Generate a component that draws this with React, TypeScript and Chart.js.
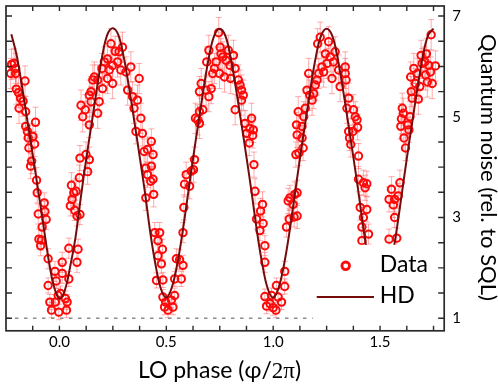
import React, { useEffect, useRef } from "react";
import { Chart, registerables } from "chart.js";

Chart.register(...registerables);

// ---------- axis ranges & ticks ----------
const X_MIN = -0.25;
const X_MAX = 1.8;
const Y_MIN = 0.75;
const Y_MAX = 7.2;
const X_TICKS = [0, 0.5, 1.0, 1.5];
const Y_TICKS = [1, 3, 5, 7];
const X_MINOR = [-0.125, 0, 0.125, 0.25, 0.375, 0.5, 0.625, 0.75, 0.875, 1.0, 1.125, 1.25, 1.375, 1.5, 1.625, 1.75];
const Y_MINOR = [1, 1.5, 2, 2.5, 3, 3.5, 4, 4.5, 5, 5.5, 6, 6.5, 7];

// ---------- labels ----------
const X_TITLE = ["LO phase (", "φ/", "2π", ")"];
const Y_TITLE = "Quantum noise (rel. to SQL)";
const LEGEND_DATA = "Data";
const LEGEND_HD = "HD";

// ---------- SQL reference (dashed) ----------
const SQL_X = [-0.25, 1.8];
const SQL_Y = [1, 1];

// ---------- HD curve ----------
const HD_X = [
  -0.225, -0.2, -0.175, -0.15, -0.125, -0.1, -0.075, -0.05, -0.025, 0,
  0.025, 0.05, 0.075, 0.1, 0.125, 0.15, 0.175, 0.2, 0.225, 0.25,
  0.275, 0.3, 0.325, 0.35, 0.375, 0.4, 0.425, 0.45, 0.475, 0.5,
  0.525, 0.55, 0.575, 0.6, 0.625, 0.65, 0.675, 0.7, 0.725, 0.75,
  0.775, 0.8, 0.825, 0.85, 0.875, 0.9, 0.925, 0.95, 0.975, 1.0,
  1.025, 1.05, 1.075, 1.1, 1.125, 1.15, 1.175, 1.2, 1.225, 1.25,
  1.275, 1.3, 1.325, 1.35, 1.375, 1.4, 1.425, 1.45, 1.475, 1.5,
  1.525, 1.55, 1.575, 1.6, 1.625, 1.65, 1.675, 1.7, 1.725, 1.75,
];
const HD_Y = [
  6.64, 6.22, 5.6, 4.92, 4.25, 3.55, 2.85, 2.15, 1.62, 1.39,
  1.55, 2.02, 2.6, 3.4, 4.15, 4.85, 5.55, 6.2, 6.64, 6.76,
  6.63, 6.2, 5.6, 4.92, 4.22, 3.5, 2.7, 2.05, 1.58, 1.41,
  1.6, 2.05, 2.68, 3.42, 4.17, 4.88, 5.57, 6.2, 6.62, 6.75,
  6.62, 6.2, 5.58, 4.9, 4.2, 3.47, 2.7, 2.05, 1.58, 1.41,
  1.6, 2.05, 2.68, 3.42, 4.17, 4.88, 5.57, 6.2, 6.62, 6.75,
  6.62, 6.2, 5.58, 4.9, 4.2, 3.47, 2.7, 2.05, 1.58, 1.41,
  1.6, 2.05, 2.68, 3.42, 4.17, 4.88, 5.57, 6.2, 6.62, 6.75,
];

// ---------- measured data: [phase, noise, error] ----------
const DATA: [number, number, number][] = [
  [-0.224, 6.04, 0.3], [-0.212, 6.06, 0.3], [-0.205, 5.96, 0.3], [-0.228, 5.86, 0.3], [-0.205, 5.86, 0.3],
  [-0.161, 5.71, 0.3], [-0.202, 5.55, 0.3], [-0.192, 5.48, 0.3], [-0.182, 5.37, 0.3], [-0.17, 5.31, 0.3],
  [-0.189, 5.17, 0.3], [-0.158, 5.1, 0.3], [-0.112, 4.89, 0.3], [-0.158, 4.81, 0.25], [-0.15, 4.71, 0.25],
  [-0.124, 4.61, 0.25], [-0.146, 4.58, 0.25], [-0.143, 4.38, 0.25], [-0.116, 4.46, 0.25], [-0.13, 4.12, 0.25],
  [-0.135, 4.02, 0.25], [-0.107, 3.74, 0.25], [-0.104, 3.49, 0.2], [-0.071, 3.29, 0.2], [-0.099, 3.07, 0.2],
  [-0.068, 3.12, 0.2], [-0.062, 2.96, 0.2], [-0.081, 2.81, 0.2], [-0.096, 2.57, 0.2], [-0.084, 2.55, 0.2],
  [-0.088, 2.44, 0.2], [-0.053, 2.18, 0.2], [-0.021, 1.93, 0.2], [0.013, 2.11, 0.2], [0.013, 1.89, 0.2],
  [-0.015, 1.74, 0.15], [-0.053, 1.65, 0.15], [0.005, 1.49, 0.15], [-0.006, 1.45, 0.15], [-0.045, 1.32, 0.15],
  [-0.019, 1.32, 0.15], [0.028, 1.39, 0.15], [0.036, 1.32, 0.15], [-0.037, 1.16, 0.15], [-0.003, 1.12, 0.15],
  [0.033, 1.16, 0.15], [0.044, 2.39, 0.2], [0.044, 1.78, 0.15], [0.087, 2.37, 0.2], [0.082, 2.11, 0.2],
  [0.056, 3.64, 0.25], [0.067, 3.49, 0.25], [0.059, 3.36, 0.2], [0.051, 3.23, 0.2], [0.072, 3.14, 0.2],
  [0.082, 3.03, 0.2], [0.096, 3.06, 0.2], [0.078, 3.52, 0.25], [0.093, 3.79, 0.25], [0.096, 4.18, 0.25],
  [0.124, 4.25, 0.25], [0.14, 4.15, 0.25], [0.132, 3.91, 0.25], [0.101, 5.23, 0.3], [0.121, 5.14, 0.3],
  [0.109, 5.0, 0.3], [0.179, 5.07, 0.3], [0.14, 4.84, 0.25], [0.148, 5.5, 0.3], [0.14, 5.43, 0.3],
  [0.186, 5.3, 0.3], [0.148, 5.3, 0.3], [0.163, 5.79, 0.3], [0.156, 5.73, 0.3], [0.179, 5.73, 0.3],
  [0.225, 5.76, 0.3], [0.249, 5.66, 0.3], [0.202, 5.56, 0.3], [0.241, 6.45, 0.3], [0.225, 6.15, 0.3],
  [0.261, 6.3, 0.3], [0.279, 6.29, 0.3], [0.295, 6.38, 0.3], [0.272, 6.09, 0.3], [0.21, 6.09, 0.3],
  [0.199, 5.96, 0.3], [0.249, 6.02, 0.3], [0.233, 5.93, 0.3], [0.287, 5.93, 0.3], [0.311, 5.89, 0.3],
  [0.334, 5.99, 0.3], [0.373, 5.76, 0.3], [0.319, 5.53, 0.3], [0.342, 5.4, 0.3], [0.365, 5.33, 0.3],
  [0.349, 5.17, 0.3], [0.381, 4.97, 0.3], [0.358, 4.71, 0.25], [0.388, 4.67, 0.25], [0.396, 4.31, 0.25],
  [0.412, 4.35, 0.25], [0.404, 3.98, 0.25], [0.412, 3.85, 0.25], [0.404, 3.39, 0.25], [0.427, 3.72, 0.25],
  [0.43, 4.51, 0.25], [0.438, 4.25, 0.25], [0.43, 4.02, 0.25], [0.438, 3.76, 0.25], [0.441, 3.46, 0.25],
  [0.446, 2.7, 0.2], [0.469, 2.7, 0.2], [0.461, 2.54, 0.2], [0.482, 2.37, 0.2], [0.461, 2.24, 0.2],
  [0.477, 2.08, 0.2], [0.454, 1.75, 0.15], [0.484, 1.76, 0.15], [0.484, 1.42, 0.15], [0.497, 1.32, 0.15],
  [0.492, 1.22, 0.15], [0.508, 1.16, 0.15], [0.531, 1.22, 0.15], [0.539, 1.45, 0.15], [0.524, 1.36, 0.15],
  [0.547, 2.18, 0.2], [0.562, 2.16, 0.2], [0.578, 2.05, 0.2], [0.539, 1.78, 0.15], [0.57, 1.78, 0.15],
  [0.578, 2.7, 0.2], [0.582, 3.2, 0.25], [0.585, 3.66, 0.25], [0.593, 3.85, 0.25], [0.617, 3.92, 0.25],
  [0.609, 3.62, 0.25], [0.627, 3.95, 0.25], [0.632, 4.15, 0.25], [0.636, 4.97, 0.3], [0.655, 5.1, 0.3],
  [0.647, 4.94, 0.3], [0.671, 5.14, 0.3], [0.655, 4.87, 0.3], [0.655, 5.5, 0.3], [0.663, 5.66, 0.3],
  [0.686, 5.53, 0.3], [0.699, 5.4, 0.3], [0.71, 5.56, 0.3], [0.689, 6.09, 0.3], [0.699, 6.32, 0.3],
  [0.733, 6.09, 0.3], [0.725, 5.96, 0.3], [0.749, 5.86, 0.3], [0.717, 5.86, 0.3], [0.752, 6.38, 0.3],
  [0.745, 6.67, 0.3], [0.764, 6.19, 0.3], [0.772, 5.79, 0.3], [0.756, 6.25, 0.3], [0.79, 6.32, 0.3],
  [0.814, 6.22, 0.3], [0.78, 6.12, 0.3], [0.798, 6.02, 0.3], [0.822, 5.96, 0.3], [0.801, 5.76, 0.3],
  [0.837, 5.73, 0.3], [0.845, 5.63, 0.3], [0.852, 5.53, 0.3], [0.86, 5.43, 0.3], [0.852, 5.33, 0.3],
  [0.822, 5.14, 0.3], [0.899, 4.97, 0.3], [0.868, 4.87, 0.25], [0.891, 4.77, 0.25], [0.907, 4.74, 0.25],
  [0.876, 4.67, 0.25], [0.904, 4.63, 0.25], [0.888, 4.48, 0.25], [0.91, 4.05, 0.25], [0.915, 3.52, 0.25],
  [0.95, 3.26, 0.25], [0.941, 3.13, 0.25], [0.922, 2.97, 0.2], [0.953, 2.88, 0.2], [0.938, 2.74, 0.2],
  [0.961, 2.44, 0.2], [0.961, 2.11, 0.2], [1.054, 1.93, 0.2], [1.015, 1.65, 0.15], [1.054, 1.63, 0.15],
  [0.961, 1.43, 0.15], [0.992, 1.45, 0.15], [1.023, 1.42, 0.15], [0.969, 1.24, 0.15], [1.0, 1.21, 0.15],
  [1.039, 1.32, 0.15], [1.013, 1.16, 0.15], [0.985, 1.29, 0.15], [1.062, 2.81, 0.2], [1.075, 2.97, 0.2],
  [1.07, 3.33, 0.25], [1.078, 3.39, 0.25], [1.093, 3.26, 0.25], [1.101, 3.46, 0.25], [1.098, 3.01, 0.2],
  [1.106, 4.25, 0.25], [1.112, 4.64, 0.25], [1.109, 4.84, 0.25], [1.117, 5.1, 0.3], [1.12, 4.28, 0.25],
  [1.112, 3.49, 0.25], [1.112, 3.03, 0.25], [1.135, 4.81, 0.25], [1.135, 4.58, 0.25], [1.14, 4.38, 0.25],
  [1.143, 5.0, 0.3], [1.15, 5.17, 0.3], [1.158, 5.53, 0.3], [1.171, 5.43, 0.3], [1.182, 5.33, 0.3],
  [1.19, 5.46, 0.3], [1.197, 5.63, 0.3], [1.166, 5.86, 0.3], [1.205, 5.73, 0.3], [1.213, 5.86, 0.3],
  [1.228, 5.99, 0.3], [1.236, 5.89, 0.3], [1.252, 6.06, 0.3], [1.244, 6.25, 0.3], [1.267, 6.19, 0.3],
  [1.259, 6.49, 0.3], [1.208, 6.45, 0.3], [1.22, 6.58, 0.3], [1.275, 5.76, 0.3], [1.282, 6.09, 0.3],
  [1.29, 6.29, 0.3], [1.306, 5.93, 0.3], [1.313, 5.6, 0.3], [1.337, 5.99, 0.3], [1.341, 5.73, 0.3],
  [1.337, 5.86, 0.3], [1.353, 5.37, 0.3], [1.345, 5.17, 0.3], [1.376, 5.14, 0.3], [1.384, 5.0, 0.3],
  [1.392, 4.94, 0.25], [1.395, 4.79, 0.25], [1.373, 4.71, 0.25], [1.353, 4.71, 0.25], [1.357, 4.58, 0.25],
  [1.363, 4.45, 0.25], [1.399, 4.22, 0.25], [1.399, 3.76, 0.25], [1.422, 3.69, 0.25], [1.438, 3.67, 0.25],
  [1.43, 3.59, 0.25], [1.407, 3.2, 0.25], [1.438, 3.16, 0.25], [1.422, 3.0, 0.2], [1.415, 2.81, 0.2],
  [1.446, 2.67, 0.2], [1.415, 2.54, 0.2], [1.542, 2.57, 0.2], [1.578, 2.59, 0.2], [1.553, 3.56, 0.25],
  [1.593, 3.69, 0.25], [1.542, 3.36, 0.25], [1.568, 3.36, 0.25], [1.585, 3.43, 0.25], [1.562, 3.25, 0.25],
  [1.568, 3.0, 0.2], [1.604, 5.17, 0.3], [1.609, 5.07, 0.3], [1.6, 4.96, 0.3], [1.597, 4.81, 0.25],
  [1.64, 5.0, 0.3], [1.63, 4.84, 0.25], [1.612, 4.58, 0.25], [1.619, 4.38, 0.25], [1.635, 4.74, 0.25],
  [1.643, 5.79, 0.3], [1.658, 5.96, 0.3], [1.674, 5.86, 0.3], [1.646, 5.5, 0.3], [1.65, 5.37, 0.3],
  [1.666, 5.66, 0.3], [1.679, 5.35, 0.3], [1.686, 5.6, 0.3], [1.692, 6.22, 0.3], [1.717, 6.25, 0.3],
  [1.709, 6.09, 0.3], [1.697, 6.06, 0.3], [1.728, 6.02, 0.3], [1.736, 5.89, 0.3], [1.713, 5.83, 0.3],
  [1.721, 5.69, 0.3], [1.744, 5.66, 0.3], [1.759, 6.01, 0.3], [1.739, 6.63, 0.3],
];

// ---------- styles ----------
const FONT = "Lato";
const RED = "#ff0a0a";
const ERR_COLOR = "rgba(255,70,70,0.45)";
const HD_COLOR = "#740c0c";
const FRAME_COLOR = "#2a2a2a";

const decorPlugin = {
  id: "decor",
  beforeDatasetsDraw(chart: any) {
    const { ctx, chartArea: ca, scales } = chart;
    const xs = scales.x;
    const ys = scales.y;
    ctx.save();
    ctx.beginPath();
    ctx.rect(ca.left, ca.top, ca.right - ca.left, ca.bottom - ca.top);
    ctx.clip();
    ctx.strokeStyle = ERR_COLOR;
    ctx.lineWidth = 1;
    ctx.beginPath();
    for (const [dx, dy, de] of DATA) {
      const px = xs.getPixelForValue(dx);
      const p1 = ys.getPixelForValue(dy + de);
      const p2 = ys.getPixelForValue(dy - de);
      ctx.moveTo(px, p1);
      ctx.lineTo(px, p2);
      ctx.moveTo(px - 3, p1);
      ctx.lineTo(px + 3, p1);
      ctx.moveTo(px - 3, p2);
      ctx.lineTo(px + 3, p2);
    }
    ctx.stroke();
    ctx.restore();
  },
  afterDatasetsDraw(chart: any) {
    const { ctx, chartArea: ca } = chart;
    // legend box (opaque, covers what lies behind it)
    const boxL = ca.right - 131.5;
    const boxT = ca.bottom - 86;
    ctx.save();
    ctx.fillStyle = "#ffffff";
    ctx.fillRect(boxL, boxT, ca.right - boxL, ca.bottom - boxT);
    const symX = boxL + 33;
    const y1 = boxT + 21;
    const y2 = boxT + 52.3;
    ctx.strokeStyle = RED;
    ctx.lineWidth = 2.8;
    ctx.beginPath();
    ctx.arc(symX, y1, 3.8, 0, Math.PI * 2);
    ctx.stroke();
    ctx.strokeStyle = HD_COLOR;
    ctx.lineWidth = 2;
    ctx.beginPath();
    ctx.moveTo(boxL + 4, y2);
    ctx.lineTo(boxL + 61.3, y2);
    ctx.stroke();
    ctx.fillStyle = "#000";
    ctx.font = `23px ${FONT}`;
    ctx.textAlign = "left";
    ctx.textBaseline = "alphabetic";
    ctx.fillText(LEGEND_DATA, boxL + 67, y1 + 5.7);
    ctx.fillText(LEGEND_HD, boxL + 67, y2 + 5.4);
    ctx.restore();
  },
  afterDraw(chart: any) {
    const { ctx, chartArea: ca, scales } = chart;
    const xs = scales.x;
    const ys = scales.y;
    ctx.save();
    ctx.strokeStyle = FRAME_COLOR;
    ctx.lineWidth = 1.7;
    ctx.strokeRect(ca.left, ca.top, ca.right - ca.left, ca.bottom - ca.top);
    ctx.lineWidth = 1.4;
    ctx.beginPath();
    for (const v of X_MINOR) {
      const px = xs.getPixelForValue(v);
      ctx.moveTo(px, ca.bottom);
      ctx.lineTo(px, ca.bottom - 5);
      ctx.moveTo(px, ca.top);
      ctx.lineTo(px, ca.top + 5);
    }
    for (const v of Y_MINOR) {
      const py = ys.getPixelForValue(v);
      ctx.moveTo(ca.left, py);
      ctx.lineTo(ca.left + 6, py);
      ctx.moveTo(ca.right, py);
      ctx.lineTo(ca.right - 6, py);
    }
    ctx.stroke();

    // x title
    ctx.fillStyle = "#000";
    ctx.textBaseline = "alphabetic";
    ctx.textAlign = "left";
    const fonts = [`23px ${FONT}`, `23px ${FONT}`, `23px "Liberation Serif"`, `23px ${FONT}`];
    let total = 0;
    const widths: number[] = [];
    X_TITLE.forEach((s, i) => {
      ctx.font = fonts[i];
      const w = ctx.measureText(s).width;
      widths.push(w);
      total += w;
    });
    let tx = 219.5 - total / 2;
    X_TITLE.forEach((s, i) => {
      ctx.font = fonts[i];
      ctx.fillText(s, tx, 378.3);
      tx += widths[i];
    });

    // y title (rotated, reads top to bottom)
    ctx.save();
    ctx.translate(480.5, (ca.top + ca.bottom) / 2);
    ctx.rotate(Math.PI / 2);
    ctx.font = `22px ${FONT}`;
    ctx.textAlign = "center";
    ctx.textBaseline = "alphabetic";
    ctx.fillText(Y_TITLE, -1, 0);
    ctx.restore();
    ctx.restore();
  },
};

export default function App() {
  const ref = useRef<HTMLCanvasElement | null>(null);
  useEffect(() => {
    if (!ref.current) return;
    const chart = new Chart(ref.current, {
      type: "scatter",
      data: {
        datasets: [
          {
            label: "HD",
            data: HD_X.map((x, i) => ({ x, y: HD_Y[i] })),
            showLine: true,
            borderColor: HD_COLOR,
            borderWidth: 2,
            pointRadius: 0,
            tension: 0.4,
            order: 0,
          },
          {
            label: "Data",
            data: DATA.map((d) => ({ x: d[0], y: d[1] })),
            showLine: false,
            borderColor: RED,
            backgroundColor: "rgba(0,0,0,0)",
            borderWidth: 2,
            pointRadius: 3.7,
            order: 1,
          },
          {
            label: "SQL",
            data: SQL_X.map((x, i) => ({ x, y: SQL_Y[i] })),
            showLine: true,
            borderColor: "#8c8c8c",
            borderWidth: 1.5,
            borderDash: [3.5, 5.5],
            pointRadius: 0,
            order: 2,
          },
        ],
      },
      options: {
        animation: false,
        responsive: false,
        events: [],
        layout: { padding: { left: 3.5, top: 3.7, right: 0, bottom: 0 } },
        plugins: { legend: { display: false }, tooltip: { enabled: false } },
        scales: {
          x: {
            type: "linear",
            position: "bottom",
            min: X_MIN,
            max: X_MAX,
            grid: { display: false, drawTicks: false },
            border: { display: false },
            afterBuildTicks: (s: any) => {
              s.ticks = X_TICKS.map((v) => ({ value: v }));
            },
            afterFit: (s: any) => {
              s.height = 56.2;
              s.paddingLeft = 0;
              s.paddingRight = 0;
            },
            ticks: {
              padding: 2,
              color: "#000",
              font: { family: FONT, size: 15 },
              maxRotation: 0,
              callback: (v: any) => Number(v).toFixed(1),
            },
          },
          y: {
            type: "linear",
            position: "right",
            min: Y_MIN,
            max: Y_MAX,
            grid: { display: false, drawTicks: false },
            border: { display: false },
            afterBuildTicks: (s: any) => {
              s.ticks = Y_TICKS.map((v) => ({ value: v }));
            },
            afterFit: (s: any) => {
              s.width = 53.8;
              s.paddingTop = 0;
              s.paddingBottom = 0;
            },
            ticks: {
              padding: 8,
              color: "#000",
              font: { family: FONT, size: 15 },
              callback: (v: any) => String(v),
            },
          },
        },
      },
      plugins: [decorPlugin],
    } as any);
    return () => chart.destroy();
  }, []);
  return (
    <div style={{ position: "fixed", left: 0, top: 0, width: 498, height: 387, background: "#fff" }}>
      <canvas ref={ref} width={498} height={387} style={{ width: 498, height: 387, display: "block" }} />
    </div>
  );
}
